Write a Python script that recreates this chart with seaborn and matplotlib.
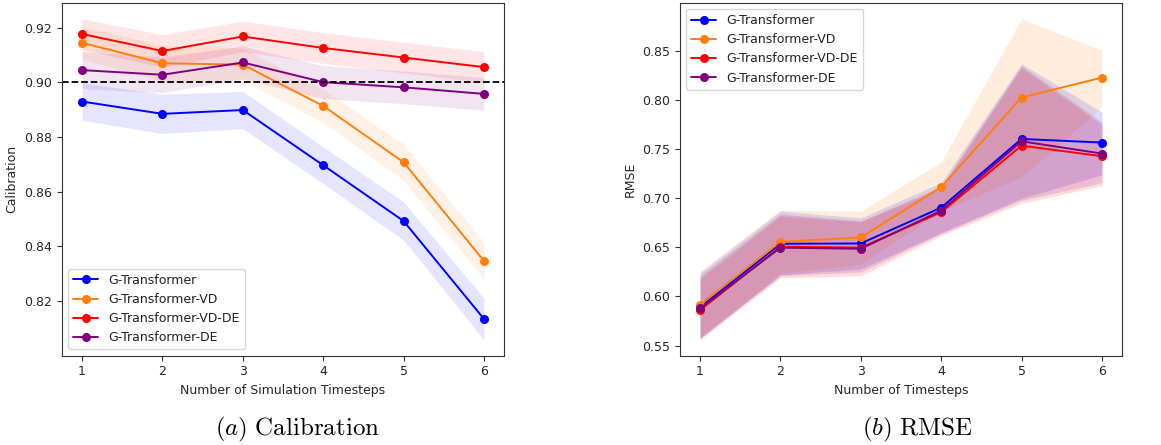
import numpy as np
import pandas as pd
import matplotlib
matplotlib.use("Agg")
import matplotlib.pyplot as plt
import seaborn as sns

# data
steps = [1, 2, 3, 4, 5, 6]
models = ["G-Transformer", "G-Transformer-VD", "G-Transformer-VD-DE", "G-Transformer-DE"]
colors = ["blue", "#ff7f0e", "red", "purple"]

# calibration (mean and band half-width)
cal_g = [0.8930, 0.8885, 0.8899, 0.8697, 0.8493, 0.8135]
cal_vd = [0.9145, 0.9070, 0.9065, 0.8914, 0.8708, 0.8347]
cal_vdde = [0.9177, 0.9115, 0.9168, 0.9126, 0.9091, 0.9056]
cal_de = [0.9045, 0.9028, 0.9073, 0.9001, 0.8982, 0.8958]
cal_g_sd = [0.0068, 0.0072, 0.0068, 0.0067, 0.0070, 0.0076]
cal_vd_sd = [0.0060, 0.0065, 0.0060, 0.0060, 0.0066, 0.0068]
cal_vdde_sd = [0.0056, 0.0060, 0.0056, 0.0056, 0.0056, 0.0056]
cal_de_sd = [0.0068, 0.0065, 0.0060, 0.0060, 0.0060, 0.0060]

# rmse (mean, band lower and upper bounds)
rmse_g = [0.5889, 0.6537, 0.6540, 0.6905, 0.7605, 0.7568]
rmse_vd = [0.5916, 0.6557, 0.6601, 0.7115, 0.8027, 0.8230]
rmse_vdde = [0.5861, 0.6507, 0.6497, 0.6858, 0.7537, 0.7429]
rmse_de = [0.5878, 0.6497, 0.6486, 0.6875, 0.7581, 0.7456]
rmse_g_lo = [0.557, 0.622, 0.628, 0.665, 0.700, 0.724]
rmse_g_hi = [0.624, 0.687, 0.680, 0.716, 0.837, 0.788]
rmse_vd_lo = [0.558, 0.624, 0.633, 0.687, 0.722, 0.793]
rmse_vd_hi = [0.626, 0.688, 0.687, 0.737, 0.883, 0.851]
rmse_vdde_lo = [0.556, 0.619, 0.621, 0.662, 0.695, 0.713]
rmse_vdde_hi = [0.618, 0.682, 0.676, 0.710, 0.833, 0.775]
rmse_de_lo = [0.558, 0.621, 0.625, 0.664, 0.698, 0.716]
rmse_de_hi = [0.621, 0.684, 0.677, 0.712, 0.835, 0.778]

cal_means = [cal_g, cal_vd, cal_vdde, cal_de]
cal_sds = [cal_g_sd, cal_vd_sd, cal_vdde_sd, cal_de_sd]
cal_lows = [np.array(m) - np.array(s) for m, s in zip(cal_means, cal_sds)]
cal_highs = [np.array(m) + np.array(s) for m, s in zip(cal_means, cal_sds)]
rmse_means = [rmse_g, rmse_vd, rmse_vdde, rmse_de]
rmse_lows = [rmse_g_lo, rmse_vd_lo, rmse_vdde_lo, rmse_de_lo]
rmse_highs = [rmse_g_hi, rmse_vd_hi, rmse_vdde_hi, rmse_de_hi]

sns.set_style("ticks")
plt.rcParams["font.family"] = ["DejaVu Sans"]
plt.rcParams["mathtext.fontset"] = "cm"
plt.rcParams["text.color"] = "#222222"
plt.rcParams["axes.edgecolor"] = "#333333"

fig, axes = plt.subplots(1, 2, figsize=(11.61, 4.45), dpi=100)
fig.subplots_adjust(left=0.0534, right=0.9664, top=0.994, bottom=0.2007, wspace=0.398)


def draw_panel(ax, means, lows, highs, alpha):
    for name, c, m, lo, hi in zip(models, colors, means, lows, highs):
        ax.fill_between(steps, lo, hi, color=c, alpha=alpha, linewidth=0)
        sns.lineplot(x=steps, y=m, color=c, marker="o", markersize=6.5,
                     markeredgewidth=0, linewidth=1.4, label=name, ax=ax)
    ax.set_xticks(steps)
    ax.tick_params(labelsize=9, length=3.5, color="#333333")


ax = axes[0]
draw_panel(ax, cal_means, cal_lows, cal_highs, 0.1)
ax.axhline(0.90, color="black", linestyle="--", linewidth=1.3)
ax.set_xlabel("Number of Simulation Timesteps", fontsize=9)
ax.set_ylabel("Calibration", fontsize=9)
ax.legend(loc="lower left", fontsize=9)

ax = axes[1]
draw_panel(ax, rmse_means, rmse_lows, rmse_highs, 0.14)
ax.set_xlabel("Number of Timesteps", fontsize=9)
ax.set_ylabel("RMSE", fontsize=9)
ax.legend(loc="upper left", fontsize=9)

fig.text(0.256, 0.034, r"$(a)\ \mathrm{Calibration}$", fontsize=18, ha="center", va="center", color="black")
fig.text(0.79, 0.034, r"$(b)\ \mathrm{RMSE}$", fontsize=18, ha="center", va="center", color="black")

fig.savefig("out.png", dpi=100)
